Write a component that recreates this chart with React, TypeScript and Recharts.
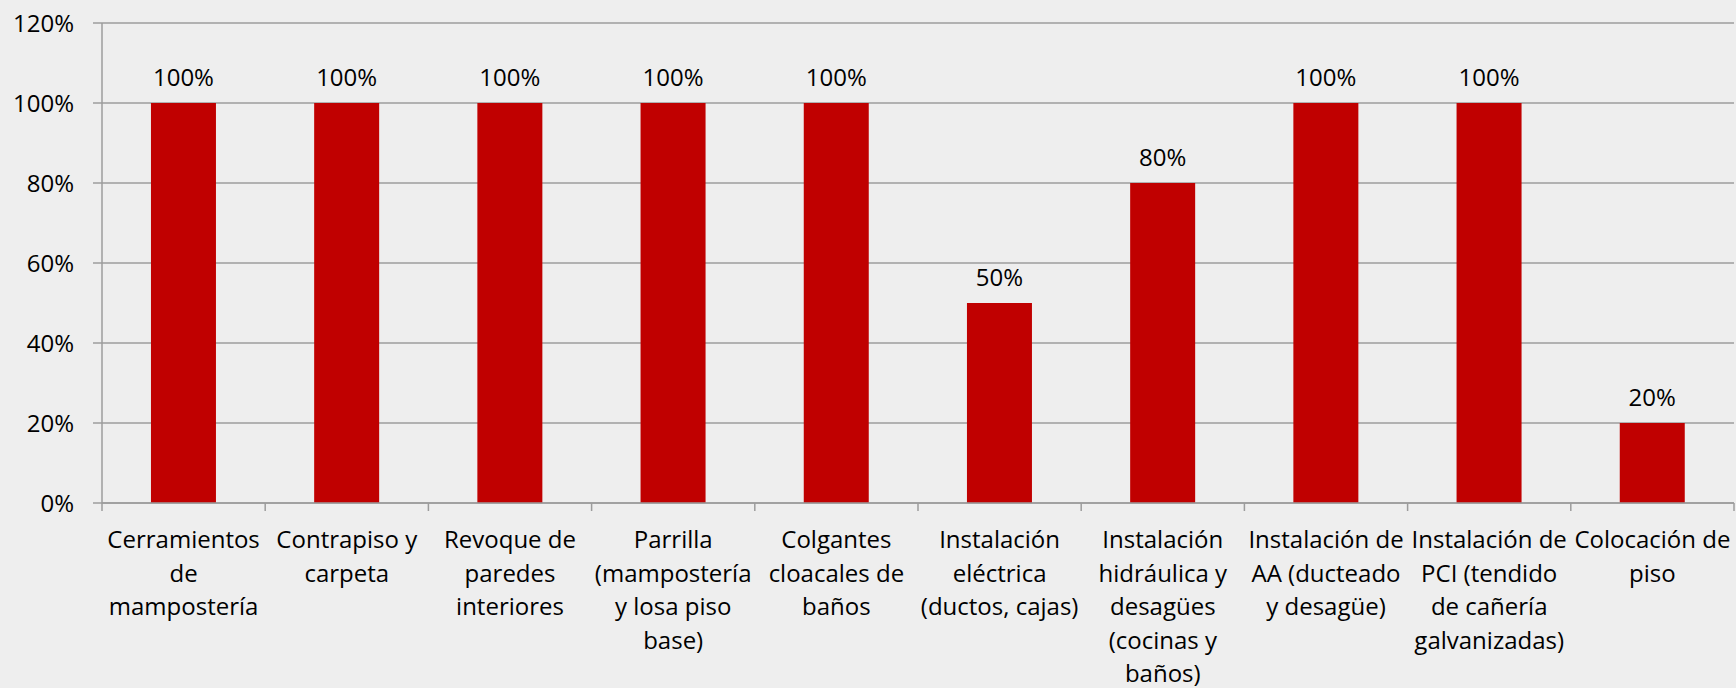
import React from 'react';
import { BarChart, Bar, XAxis, YAxis, CartesianGrid, LabelList } from 'recharts';

// categories already broken into lines the way the original wraps them
const CATEGORIES = [
  'Cerramientos\nde\nmampostería',
  'Contrapiso y\ncarpeta',
  'Revoque de\nparedes\ninteriores',
  'Parrilla\n(mampostería\ny losa piso\nbase)',
  'Colgantes\ncloacales de\nbaños',
  'Instalación\neléctrica\n(ductos, cajas)',
  'Instalación\nhidráulica y\ndesagües\n(cocinas y\nbaños)',
  'Instalación de\nAA (ducteado\ny desagüe)',
  'Instalación de\nPCI (tendido\nde cañería\ngalvanizadas)',
  'Colocación de\npiso',
];
const AVANCE = [1, 1, 1, 1, 1, 0.5, 0.8, 1, 1, 0.2];
const Y_TICKS = [0, 0.2, 0.4, 0.6, 0.8, 1, 1.2];

const FONT = "'Open Sans', sans-serif";
const GRID = '#9c9c9c';
const BAR = '#C00000';

const pct = (v: any) => `${Math.round(Number(v) * 100)}%`;

const data = CATEGORIES.map((name, i) => ({ name, value: AVANCE[i] }));

function CategoryTick(props: any) {
  const { x, y, payload, index } = props;
  const half = payload?.offset ?? props.width / CATEGORIES.length / 2;
  const lines = String(payload.value).split('\n');
  return (
    <g>
      <line x1={x - half} x2={x - half} y1={y} y2={y + 8} stroke={GRID} strokeWidth={1.5} />
      {index === CATEGORIES.length - 1 && (
        <line x1={x + half} x2={x + half} y1={y} y2={y + 8} stroke={GRID} strokeWidth={1.5} />
      )}
      <text x={x} y={y + 45} textAnchor="middle" fill="#000" fontSize={24} fontFamily={FONT}>
        {lines.map((l, i) => (
          <tspan key={i} x={x} dy={i === 0 ? 0 : 33.5}>
            {l}
          </tspan>
        ))}
      </text>
    </g>
  );
}

export default function App() {
  return (
    <div style={{ position: 'absolute', left: 0, top: 0, width: 1736, height: 688, background: '#EEEEEE' }}>
      <BarChart
        width={1736}
        height={688}
        data={data}
        margin={{ top: 23, right: 2, left: 0, bottom: 0 }}
        barCategoryGap="30%"
        style={{ fontFamily: FONT }}
      >
        <CartesianGrid vertical={false} stroke={GRID} strokeWidth={1.5} />
        <XAxis
          dataKey="name"
          interval={0}
          height={185}
          tickLine={false}
          tickSize={0}
          tickMargin={0}
          axisLine={{ stroke: GRID, strokeWidth: 1.5 }}
          tick={<CategoryTick />}
        />
        <YAxis
          domain={[0, 1.2]}
          ticks={Y_TICKS}
          width={102}
          tickFormatter={pct}
          tickSize={9}
          tickMargin={19}
          axisLine={{ stroke: GRID, strokeWidth: 1.5 }}
          tickLine={{ stroke: GRID, strokeWidth: 1.5 }}
          tick={{ fill: '#000', fontSize: 24, fontFamily: FONT }}
        />
        <Bar dataKey="value" fill={BAR} isAnimationActive={false}>
          <LabelList dataKey="value" position="top" offset={17} formatter={pct} fill="#000" fontSize={24} fontFamily={FONT} />
        </Bar>
      </BarChart>
    </div>
  );
}
